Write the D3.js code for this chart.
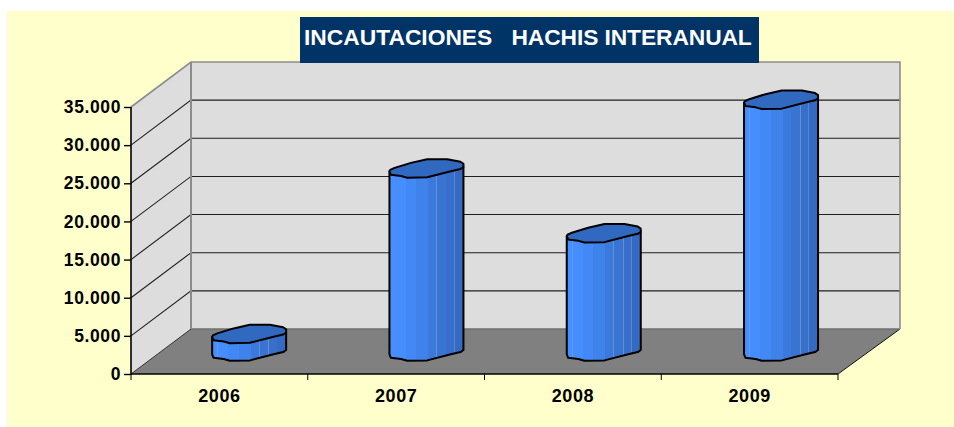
<!DOCTYPE html>
<html><head><meta charset="utf-8">
<style>html,body{margin:0;padding:0;background:#fff}svg{display:block}</style>
<script src="https://cdn.jsdelivr.net/npm/d3@7/dist/d3.min.js"></script>
</head><body><svg id="c" width="954" height="427"></svg>
<script>
const titleWords = ["INCAUTACIONES  ","HACHIS INTERANUAL"];
const categories = ["2006","2007","2008","2009"];
const seizures = [2300,24000,15500,33000];
const valueTicks = [0,5000,10000,15000,20000,25000,30000,35000];

const svg = d3.select("#c");
const font = "'Liberation Sans',Arial,sans-serif";
const depthX = 60, depthY = 45;
const x = d3.scaleBand().domain(categories).range([131,838]);
const xBars = d3.scaleBand().domain(categories).range([130.5,839.7]);
const y = d3.scaleLinear().domain([0,35000]).range([374,107]);
const fmt = d3.formatLocale({decimal:",",thousands:".",grouping:[3],currency:["",""]}).format(",d");

svg.append("rect").attr("x",7).attr("y",11).attr("width",947).attr("height",416).attr("fill","#ffffcc");

// walls and floor
const x0=x.range()[0], x1=x.range()[1], y0=y(0), yT=y(35000);
const backL=x0+depthX, backR=x1+depthX+2;
const line = d3.line();
svg.append("path").attr("d",line([[x0,y0],[x0,yT],[backL,yT-depthY],[backL,y0-depthY]])+"Z").attr("fill","#dddddd");
svg.append("rect").attr("x",backL).attr("y",yT-depthY).attr("width",backR-backL).attr("height",y0-yT).attr("fill","#dddddd");
svg.append("path").attr("d",line([[x0,y0],[backL,y0-depthY],[backR,y0-depthY],[x1,y0]])+"Z").attr("fill","#808080");

// gridlines
svg.append("g").selectAll("path").data(valueTicks.filter(v=>v>0&&v<35000)).join("path")
  .attr("d",v=>line([[x0,y(v)],[backL,y(v)-depthY],[backR,y(v)-depthY]]))
  .attr("fill","none").attr("stroke","#1f1f1f").attr("stroke-width",1.1);
svg.append("path").attr("d",line([[backL,y0-depthY],[x0,y0]])).attr("stroke","#333").attr("stroke-width",1);
svg.append("path").attr("d",line([[x1,y0],[backR,y0-depthY]])).attr("stroke","#111").attr("stroke-width",1);
svg.append("path").attr("d",line([[backL,y0-depthY],[backR,y0-depthY]])).attr("stroke","#6f6f6f").attr("stroke-width",1.5);
// wall frame
svg.append("path").attr("d",line([[x0,yT],[backL,yT-depthY],[backR,yT-depthY],[backR,y0-depthY]]))
  .attr("fill","none").attr("stroke","#8c8c8c").attr("stroke-width",1.6);
svg.append("path").attr("d",line([[backL,yT-depthY],[backL,y0-depthY]])).attr("stroke","#8c8c8c").attr("stroke-width",2);

// bars
const facetU = [0,.07,.08,.22,.36,.52,.63,.64,.76,.77,.87,.88,1];
const facetC = ["#468fff","#5f9cff","#468eff","#4289f5","#3f83ea","#3b79dc","#6390d8","#3a74d2","#638fd2","#386fca","#5a88cd","#356ac2"];
const grad = svg.append("defs").append("linearGradient").attr("id","facets");
facetC.forEach((c,i)=>{
  grad.append("stop").attr("offset",facetU[i]).attr("stop-color",c);
  grad.append("stop").attr("offset",facetU[i+1]).attr("stop-color",c);
});
const barW = 74, capH = 18.5;
const capOutline = [[0,.66],[.01,.58],[.07,.47],[.29,.2],[.51,0],[.78,0],[.96,.14],[1,.25],[1,.42],[.96,.53],[.83,.65],[.51,.98],[.24,1],[.157,.91],[.02,.84]];
const frontEdge = [[1,.42],[.96,.53],[.83,.65],[.51,.98],[.24,1],[.157,.91],[.02,.84],[0,.66]];
const baseY = y(0)-depthY/2;   // axis floor at mid depth
const bars = svg.append("g").selectAll("g").data(categories.map((c,i)=>({c,v:seizures[i]}))).join("g");
bars.each(function(d){
  const g = d3.select(this);
  const left = xBars(d.c)+xBars.bandwidth()/2+depthX/2-barW/2;
  const capTop = y(d.v)-depthY/2-capH/2;
  const baseTop = baseY-capH/2;
  const P = (p,t)=>[left+p[0]*barW, t+p[1]*capH];
  const body = [P([0,.66],capTop), P([1,.42],capTop)].concat(frontEdge.map(p=>P(p,baseTop)));
  g.append("path").attr("d",line(body)+"Z").attr("fill","url(#facets)").attr("stroke","#000").attr("stroke-width",2).attr("stroke-linejoin","round");
  g.append("path").attr("d",line(capOutline.map(p=>P(p,capTop)))+"Z")
    .attr("fill","#3269c0").attr("stroke","#000").attr("stroke-width",2).attr("stroke-linejoin","round");
});

// axes
const yAxis = svg.append("g").attr("transform",`translate(${x0},0)`)
  .call(d3.axisLeft(y).tickValues(valueTicks).tickFormat(fmt).tickSize(7).tickPadding(3));
const xAxis = svg.append("g").attr("transform",`translate(0,${y0})`)
  .call(d3.axisBottom(x).tickSize(0).tickPadding(15));
xAxis.selectAll("line").remove();
xAxis.select(".domain").attr("stroke","#000").attr("stroke-width",1.6).attr("d",line([[x0,0],[x1,0]]));
yAxis.select(".domain").attr("stroke","#000").attr("stroke-width",1.6).attr("d",line([[0,yT],[0,y0+1]]));
yAxis.selectAll("line").attr("stroke","#000").attr("stroke-width",1.4);
svg.append("g").attr("transform",`translate(0,${y0})`).selectAll("line")
  .data(d3.range(categories.length+1)).join("line")
  .attr("x1",i=>x0+i*x.step()).attr("x2",i=>x0+i*x.step()).attr("y1",0).attr("y2",6)
  .attr("stroke","#000").attr("stroke-width",1);
yAxis.selectAll("text").attr("font-family",font).attr("font-weight","bold").attr("font-size",17.5).attr("fill","#000").attr("letter-spacing",0.6);
xAxis.selectAll("text").attr("font-family",font).attr("font-weight","bold").attr("font-size",18).attr("fill","#000").attr("letter-spacing",0.6).attr("dy","0.71em");

// title
svg.append("rect").attr("x",300).attr("y",17).attr("width",459).attr("height",46).attr("fill","#003366");
const title = svg.append("text").attr("y",44.5).style("white-space","pre")
  .attr("font-family",font).attr("font-weight","bold").attr("font-size",22.8).attr("fill","#fff");
title.selectAll("tspan").data(titleWords).join("tspan").attr("x",(d,i)=>i?511.5:304).text(d=>d);
title.selectAll("tspan").filter((d,i)=>i===1).attr("letter-spacing",-0.1);
</script></body></html>
